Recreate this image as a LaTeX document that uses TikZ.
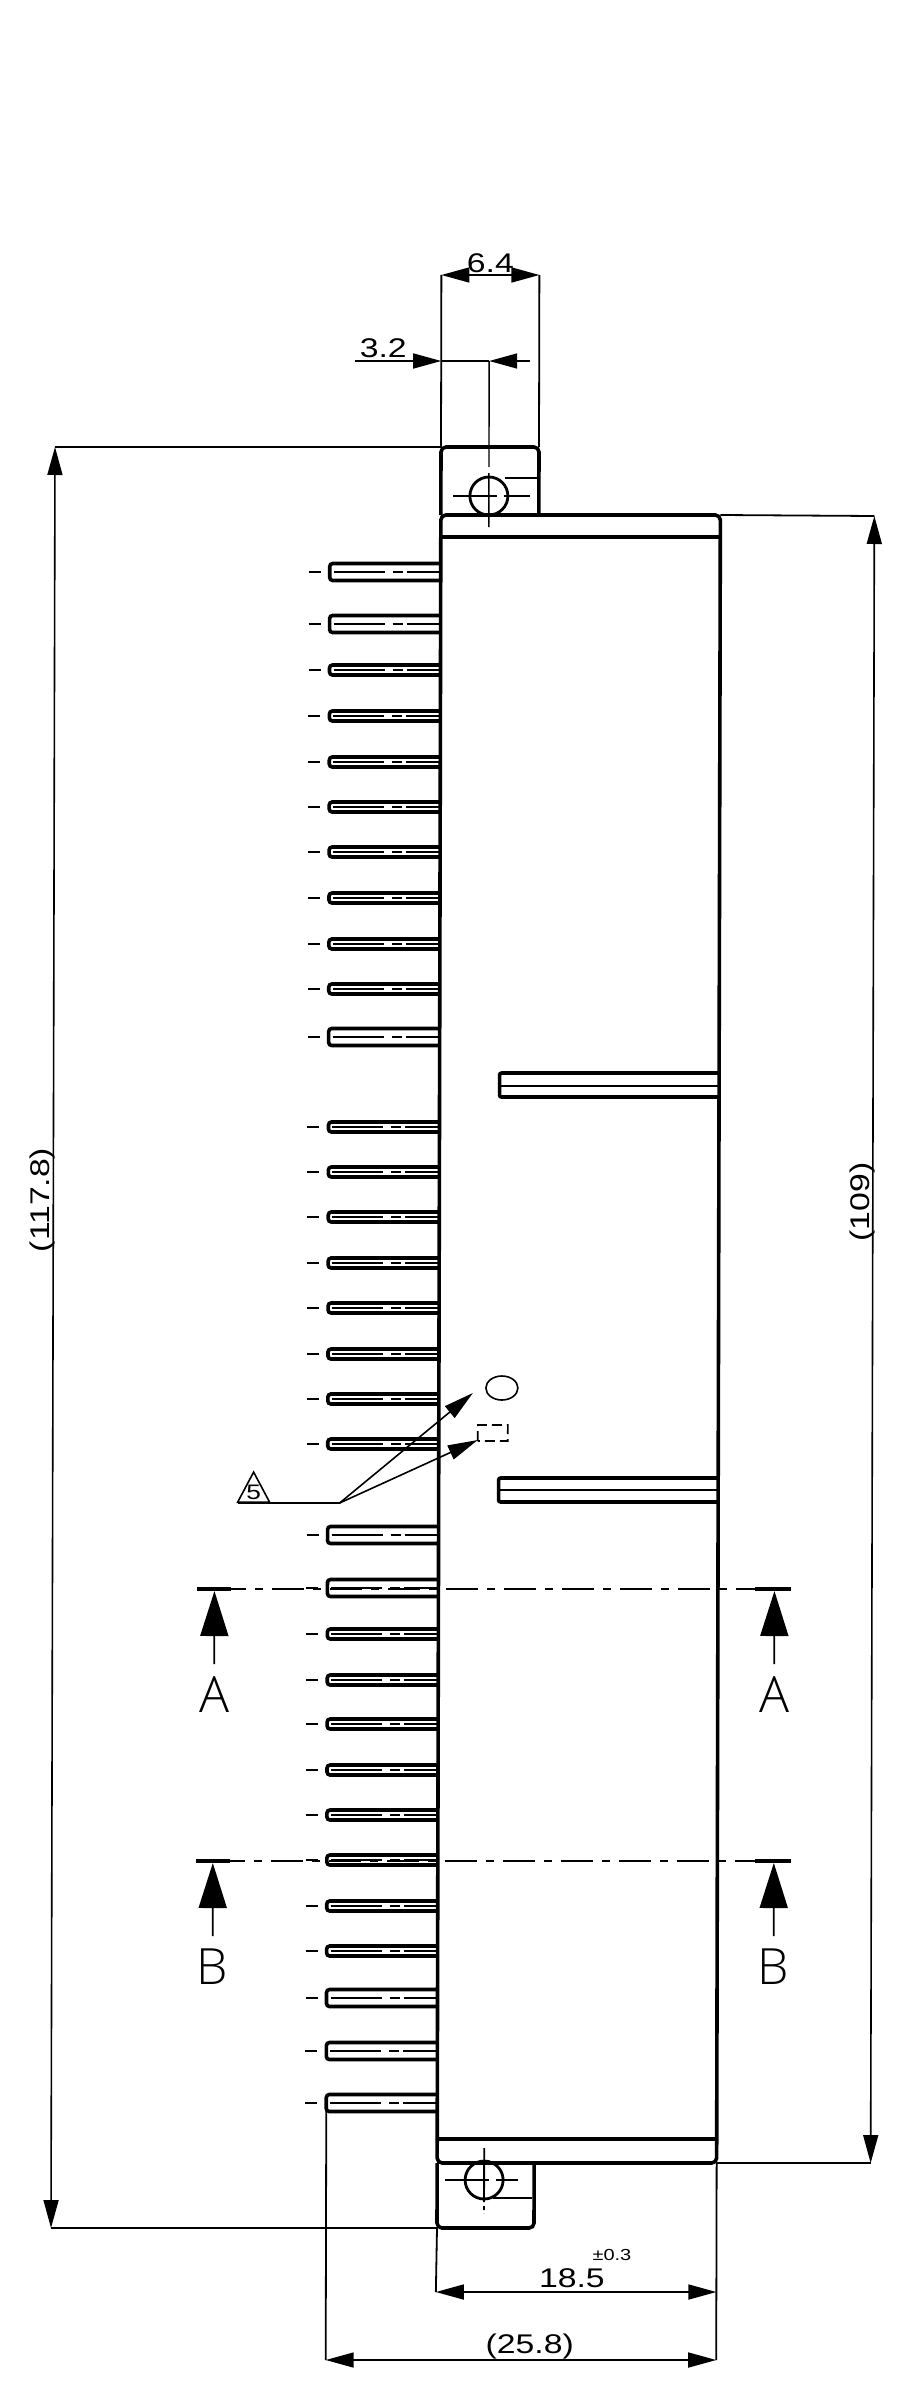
\documentclass[tikz,border=0pt]{standalone}
\usepackage{fontspec}
\usepackage{tikz}
\usetikzlibrary{arrows.meta,calc,shapes.geometric}
\newfontfamily\dimfont[FakeStretch=1.25]{Liberation Sans}
\newfontfamily\secfont{Open Sans Light}
\newcommand*{\PinStrip}[2]{
  \coordinate (pin#1) at (331,#1);
  \draw[outline,rounded corners=3pt] (442,#1-#2) -- (331,#1-#2) -- (331,#1+#2) -- (442,#1+#2);
  \draw[axisline,dash pattern=on 12pt off 13pt on 51pt off 8pt on 10pt off 4pt on 40pt] (310,#1) -- (442,#1);
}
\newcommand*{\SectionMark}[4]{
  \coordinate (#4l) at (#2,#1);
  \coordinate (#4r) at (#3,#1);
  \draw[secbar] ($(#4l)+(-17,0)$) -- ($(#4l)+(17,0)$);
  \draw[secbar] ($(#4r)+(-19,0)$) -- ($(#4r)+(17,0)$);
  \draw[secline] (#4l) -- (#4r);
  \draw[secarrow] ($(#4l)+(0,75)$) -- ($(#4l)+(0,2)$);
  \draw[secarrow] ($(#4r)+(0,75)$) -- ($(#4r)+(0,2)$);
  \node[seclabel] (#4ltext) at ($(#4l)+(0,106)$) {#4};
  \node[seclabel] (#4rtext) at ($(#4r)+(0,106)$) {#4};
}

\begin{document}
\begin{tikzpicture}[x=1pt,y=-1pt]
\tikzstyle{outline}=[line width=3.6pt]
\tikzstyle{extline}=[line width=1.8pt]
\tikzstyle{axisline}=[line width=1.4pt]
\tikzstyle{dimarrow}=[line width=1.6pt,-{Triangle[length=28pt,width=15pt]}]
\tikzstyle{dimboth}=[line width=1.6pt,{Triangle[length=28pt,width=15pt]}-{Triangle[length=28pt,width=15pt]}]
\tikzstyle{dimtext}=[inner sep=0pt,font=\dimfont\fontsize{27}{27}\selectfont]
\tikzstyle{secbar}=[line width=4.5pt]
\tikzstyle{secline}=[line width=1.6pt,dash pattern=on 32pt off 9pt on 8pt off 9pt]
\tikzstyle{secarrow}=[line width=1.8pt,-{Triangle[length=45pt,width=28pt]}]
\tikzstyle{seclabel}=[inner sep=0pt,font=\secfont\fontsize{50}{50}\selectfont]
\useasboundingbox (0,0) rectangle (907,2400);
\begin{scope}[xslant=0.00225]

\coordinate (bodytl) at (442,515);
\coordinate (bodytr) at (721.5,515);
\coordinate (bodybl) at (442,2163);
\coordinate (bodybr) at (721.5,2163);

\draw[outline,rounded corners=5pt] (442,537) -- (bodytl) -- (bodytr) -- (721.5,537);
\draw[outline] (442,537) -- (721.5,537);
\draw[outline] (442,537) -- (442,2139);
\draw[outline] (721.5,537) -- (721.5,2139);
\draw[outline] (442,2139) -- (721.5,2139);
\draw[outline,rounded corners=5pt] (442,2139) -- (bodybl) -- (bodybr) -- (721.5,2139);

% fixing tabs
\coordinate (tabtl) at (442,447);
\coordinate (tabtr) at (540,447);
\coordinate (tabbl) at (442,2228);
\coordinate (tabbr) at (539,2228);
\draw[outline,rounded corners=5pt] (442,515) -- (tabtl) -- (tabtr) -- (540,515);
\draw[line width=2.4pt] (506,478) -- (538,478);
\draw[outline,rounded corners=5pt] (442,2163) -- (tabbl) -- (tabbr) -- (539,2163);
\draw[line width=2.4pt] (498,2198) -- (537,2198);
\coordinate (holet) at (490,496);
\coordinate (holeb) at (489,2180);
\draw[line width=2.8pt] (holet) circle (19pt);
\draw[line width=2.8pt] (holeb) circle (19pt);
\draw[axisline,dash pattern=on 106pt off 6pt on 60pt] (490,361) -- (490,527);
\draw[axisline,dash pattern=on 44pt off 7pt on 26pt] (454,496) -- (531,496);
\draw[axisline,line width=1.8pt,dash pattern=on 44pt off 7pt on 22pt off 7pt on 8pt] (450,2180) -- (528,2180);
\draw[axisline,line width=1.8pt,dash pattern=on 54pt off 4pt on 4pt off 3pt] (489,2148) -- (489,2213);

% contact pins
\foreach \py in {670,716,762,807,852,898,944,989,1127,1172,1217,1263,1308,1354,1399,1444,1634,1680,1724,1770,1815,1860,1906,1951}
  \PinStrip{\py}{5};
\foreach \py in {572,624,1037,1535,1588,1998,2051,2103}
  \PinStrip{\py}{8.5};

% ribs
\draw[outline,rounded corners=2pt] (721.5,1073) -- (502,1073) -- (502,1097) -- (721.5,1097);
\draw[line width=2.6pt] (502,1086) -- (721.5,1086);
\draw[outline,rounded corners=2pt] (721.5,1478) -- (502,1478) -- (502,1502) -- (721.5,1502);
\draw[line width=2.6pt] (502,1490) -- (721.5,1490);

% note leader
\node[draw,isosceles triangle,isosceles triangle apex angle=56,shape border rotate=90,line width=1.6pt,inner sep=0pt,minimum height=30pt,minimum width=32pt,anchor=south] (note) at (257,1503) {};
\node[inner sep=0pt,font=\dimfont\fontsize{21}{21}\selectfont] (notenum) at (257,1492) {5};
\coordinate (leadl) at (241,1503);
\coordinate (leadm) at (343,1503);
\coordinate (leadu) at (476,1393);
\coordinate (leadd) at (481,1440);
\draw[extline] (leadl) -- (leadm);
\draw[line width=1.6pt,-{Triangle[length=30pt,width=15pt]}] (leadm) -- (leadu);
\draw[line width=1.6pt,-{Triangle[length=30pt,width=15pt]}] (leadm) -- (leadd);
\draw[line width=1.6pt] (505,1388) ellipse (16pt and 12pt);
\draw[line width=1.6pt,dash pattern=on 10pt off 5pt] (481,1441) -- (481,1425) -- (511,1425) -- (511,1441) -- cycle;

% section marks
\SectionMark{1589}{218}{778}{A}
\SectionMark{1861}{217}{778}{B}

% dimensions
\coordinate (dimal) at (442,275);
\coordinate (dimar) at (540,275);
\draw[extline] (dimal) -- (tabtl);
\draw[extline] (dimar) -- (tabtr);
\draw[dimboth] (dimal) -- (dimar);
\node[dimtext] (dima) at (491,263) {6.4};

\coordinate (dimbl) at (356,361);
\coordinate (dimbm) at (442,361);
\coordinate (dimbc) at (490,361);
\coordinate (dimbr) at (531,361);
\draw[dimarrow] (dimbl) -- (dimbm);
\draw[dimarrow] (dimbr) -- (dimbc);
\draw[line width=1.6pt] (dimbm) -- (dimbc);
\node[dimtext] (dimb) at (384,348) {3.2};

\coordinate (dimct) at (56,447);
\coordinate (dimcb) at (56,2228);
\draw[extline] (dimct) -- (tabtl);
\draw[extline] (dimcb) -- (tabbl);
\draw[dimboth] (dimct) -- (dimcb);
\node[dimtext,rotate=90] (dimc) at (45,1200) {(117.8)};

\coordinate (dimdt) at (875.5,516);
\coordinate (dimdb) at (875.5,2163);
\draw[extline] (bodytr) -- (dimdt);
\draw[extline] (bodybr) -- (dimdb);
\draw[dimboth] (dimdt) -- (dimdb);
\node[dimtext,rotate=90] (dimd) at (865,1202) {(109)};

\coordinate (dimel) at (441,2292);
\coordinate (dimer) at (721.5,2292);
\draw[extline] (tabbl) -- (dimel);
\draw[dimboth] (dimel) -- (dimer);
\node[dimtext] (dime) at (577,2278) {18.5};
\node[inner sep=0pt,font=\dimfont\fontsize{16}{16}\selectfont] (dimetol) at (617,2255) {±0.3};

\coordinate (dimfl) at (331,2360);
\coordinate (dimfr) at (721.5,2360);
\draw[extline] (pin2103) -- (dimfl);
\draw[extline] (bodybr) -- (dimfr);
\draw[dimboth] (dimfl) -- (dimfr);
\node[dimtext] (dimf) at (535,2346) {(25.8)};

\end{scope}
\end{tikzpicture}
\end{document}
